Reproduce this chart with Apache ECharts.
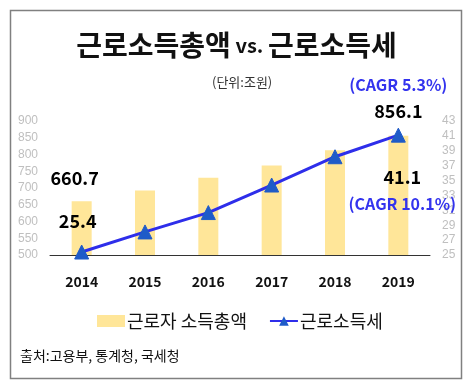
<!DOCTYPE html>
<html><head><meta charset="utf-8">
<script src="https://cdn.jsdelivr.net/npm/echarts@6/dist/echarts.min.js"></script>
<style>html,body{margin:0;padding:0;background:#fff}#c{width:473px;height:390px}</style>
</head><body><div id="c"></div>
<script>
const years = ['2014','2015','2016','2017','2018','2019'];
const totalIncome = [660.7, 692.5, 730.5, 767.0, 812.5, 856.1];   // 근로자 소득총액 (조원)
const incomeTax = [25.4, 28.1, 30.7, 34.4, 38.2, 41.1];          // 근로소득세 (조원)
const leftTicks = {min: 500, max: 900, interval: 50};
const rightTicks = {min: 25, max: 43, interval: 2};
const cagrIncome = '(CAGR 5.3%)';
const cagrTax = '(CAGR 10.1%)';
const seriesNames = ['근로자 소득총액', '근로소득세'];

const KFONT = "'Noto Sans CJK KR', 'Noto Sans', sans-serif";
const NFONT = "'Liberation Sans Narrow', 'Liberation Sans', Arial, sans-serif";
const last = years.length - 1;

const barData = totalIncome.map((v, i) => {
  if (i === 0) return {value: v, label: {show: true, position: 'top', distance: 10, offset: [-7, 0], formatter: '{v|{c}}'}};
  if (i === last) return {value: v, label: {show: true, position: 'top', distance: 12, formatter: '{c|' + cagrIncome + '}\n{v|{c}}'}};
  return v;
});
const lineData = incomeTax.map((v, i) => {
  if (i === 0) return {value: v, label: {show: true, position: 'top', distance: 10, offset: [-4, 0], formatter: '{v|{c}}'}};
  if (i === last) return {value: v, label: {show: true, position: 'bottom', distance: 22, offset: [4, 0], formatter: '{v|{c}}\n{c|' + cagrTax + '}'}};
  return v;
});
const rich = {
  v: {fontFamily: KFONT, fontWeight: 'bold', fontSize: 18, color: '#000', lineHeight: 26},
  c: {fontFamily: KFONT, fontWeight: 'bold', fontSize: 16, color: '#3333EE', lineHeight: 26}
};

const chart = echarts.init(document.getElementById('c'), null, {renderer: 'canvas'});
chart.setOption({
  animation: false,
  backgroundColor: '#fff',
  graphic: [
    {type: 'rect', shape: {x: 10.5, y: 10.5, width: 451, height: 368}, style: {fill: 'none', stroke: '#808080', lineWidth: 1.5}, z: -1},
    {type: 'text', left: 'center', top: 31, style: {
      text: '{a|근로소득총액}{b| vs. }{a|근로소득세}',
      rich: {a: {fontFamily: KFONT, fontWeight: 'bold', fontSize: 28, fill: '#111'}, b: {fontFamily: KFONT, fontWeight: 'bold', fontSize: 20, fill: '#111'}}
    }},
    {type: 'text', left: 212, top: 76, style: {text: '(단위:조원)', fontFamily: KFONT, fontSize: 13, fill: '#333'}},
    {type: 'text', left: 20, top: 349, style: {text: '출처:고용부, 통계청, 국세청', fontFamily: KFONT, fontSize: 14, fill: '#111'}}
  ],
  legend: {
    left: 92, top: 307, itemWidth: 28, itemGap: 22, itemHeight: 12,
    textStyle: {fontFamily: KFONT, fontSize: 18, color: '#111', padding: [0, 0, 0, -3]},
    data: [{name: seriesNames[0], icon: 'rect'}, {name: seriesNames[1]}]
  },
  grid: {left: 50, right: 43, top: 121, bottom: 135},
  xAxis: {
    type: 'category', data: years,
    axisLine: {lineStyle: {color: '#333', width: 1}},
    axisTick: {show: false},
    axisLabel: {margin: 20, fontFamily: KFONT, fontWeight: 'bold', fontSize: 14, color: '#111'}
  },
  yAxis: [
    {type: 'value', min: leftTicks.min, max: leftTicks.max, interval: leftTicks.interval,
     splitLine: {show: false}, axisLine: {show: false}, axisTick: {show: false},
     axisLabel: {margin: 12, fontFamily: NFONT, fontSize: 12, color: '#BFBFBF'}},
    {type: 'value', min: rightTicks.min, max: rightTicks.max, interval: rightTicks.interval,
     splitLine: {show: false}, axisLine: {show: false}, axisTick: {show: false},
     axisLabel: {margin: 12, fontFamily: NFONT, fontSize: 12, color: '#BFBFBF'}}
  ],
  series: [
    {name: seriesNames[0], type: 'bar', data: barData, barWidth: 20, yAxisIndex: 0,
     itemStyle: {color: '#FFE699'}, label: {rich: rich}},
    {name: seriesNames[1], type: 'line', data: lineData, yAxisIndex: 1,
     symbol: 'triangle', symbolSize: 14, z: 5,
     lineStyle: {color: '#2E2EEA', width: 3},
     itemStyle: {color: '#1F5BC8', borderColor: '#1F5BC8'},
     label: {rich: rich}}
  ]
});
</script></body></html>
